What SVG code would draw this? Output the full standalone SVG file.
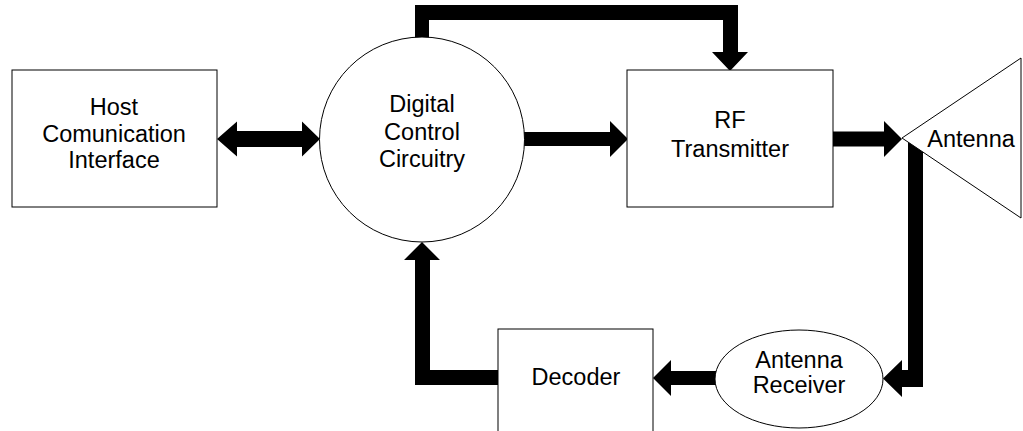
<svg xmlns="http://www.w3.org/2000/svg" width="1023" height="431" viewBox="0 0 1023 431">
<style>
.n{fill:#fff;stroke:#000;stroke-width:1}
.t{font-family:"Liberation Sans",Arial,sans-serif;font-size:23.5px;fill:#000;text-anchor:middle}
.c{fill:#000;stroke:none}
</style>
<rect width="1023" height="431" fill="#fff"/>
<g id="connectors">
<polygon class="c" points="217,139 237,121.5 237,131 302,131 302,121.5 320,139 302,156.5 302,147 237,147 237,156.5"/>
<polygon class="c" points="522,132 610,132 610,121 628,139 610,157 610,146 522,146"/>
<polygon class="c" points="832,131.5 884,131.5 884,121 902,139 884,157 884,146.5 832,146.5"/>
<polygon class="c" points="415,45 415,5 738,5 738,52 748,52 730,71 712,52 723,52 723,20 429,20 429,45"/>
<polygon class="c" points="908,139 923,139 923,387 902,387 902,397 883,378.5 902,360 902,370 908,370"/>
<polygon class="c" points="716,371 671,371 671,360 653,378 671,396 671,385 716,385"/>
<polygon class="c" points="500,370 430,370 430,260 440,260 422,242 404,260 415,260 415,385 500,385"/>
</g>
<g id="host">
<rect class="n" x="12" y="70" width="205" height="137"/>
<text class="t" x="114" y="115">Host</text>
<text class="t" x="114" y="142">Comunication</text>
<text class="t" x="114" y="168">Interface</text>
</g>
<g id="digital">
<circle class="n" cx="422" cy="139.5" r="102.5"/>
<text class="t" x="422" y="112">Digital</text>
<text class="t" x="422" y="140">Control</text>
<text class="t" x="422" y="167">Circuitry</text>
</g>
<g id="rf">
<rect class="n" x="627" y="70" width="206" height="137"/>
<text class="t" x="730" y="128">RF</text>
<text class="t" x="730" y="157">Transmitter</text>
</g>
<g id="antenna">
<polygon class="n" points="902,138 1021,58 1021,218"/>
<text class="t" x="971" y="147">Antenna</text>
</g>
<g id="receiver">
<ellipse class="n" cx="799" cy="379" rx="84" ry="49"/>
<text class="t" x="799" y="368">Antenna</text>
<text class="t" x="799" y="393">Receiver</text>
</g>
<g id="decoder">
<rect class="n" x="498" y="329" width="155" height="113"/>
<text class="t" x="576" y="385">Decoder</text>
</g>
</svg>
